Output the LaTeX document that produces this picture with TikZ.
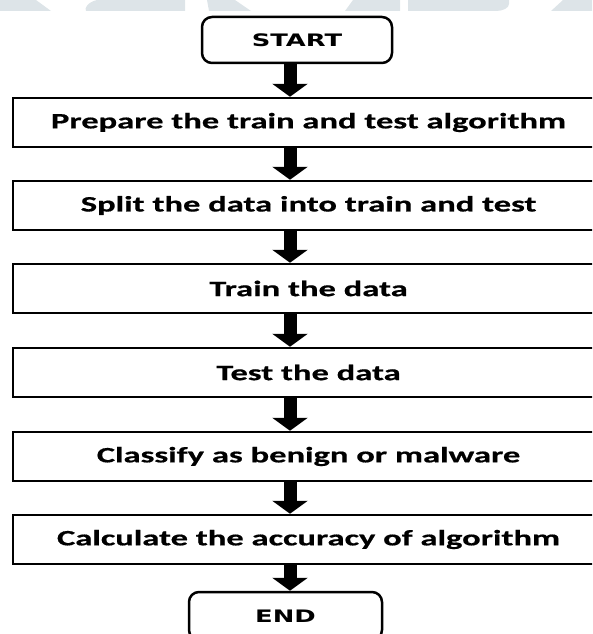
\documentclass[tikz,border=0pt]{standalone}
\usepackage{fontspec}
\usetikzlibrary{arrows.meta}
\newfontfamily\stepfont[FakeStretch=1.57,FakeBold=0.6]{Carlito Bold}
\newfontfamily\termfont[FakeStretch=1.5]{DejaVu Sans Bold}
\definecolor{wmark}{HTML}{DDE4E8}
\tikzset{
  stepbox/.style={draw=black, line width=2.5pt, fill=white, minimum width=591pt,
    minimum height=49pt, inner sep=0pt, font=\stepfont\fontsize{22pt}{26pt}\selectfont},
  termbox/.style={draw=black, line width=2.5pt, fill=white, rounded corners=10pt,
    inner sep=0pt, font=\termfont\fontsize{17.2pt}{20pt}\selectfont},
  blk/.style={line width=13pt, -{Triangle[width=35pt,length=13pt]}},
}
\begin{document}
\begin{tikzpicture}[x=1pt,y=-1pt]
  \useasboundingbox (0,0) rectangle (592,634);
  \clip (0,0) rectangle (592,634);
  % faint background lettering along the top edge
  \fill[wmark] (0,0) -- (36,0) -- (51,11) -- (0,11) -- cycle;
  \fill[wmark] (97,0) -- (185,0) -- (185,11) -- (86,11) .. controls (84,8) and (88,2) .. (97,0) -- cycle;
  \fill[wmark] (207,0) -- (235,0) -- (251,11) -- (209,11) -- cycle;
  \fill[wmark] (353,0) -- (400,0) -- (400,11) -- (345,11) -- cycle;
  \fill[wmark] (408,0) -- (509,0) -- (509,4) .. controls (509,8) and (503,11) .. (496,11) -- (408,11) -- cycle;
  \fill[wmark] (563,0) -- (592,0) -- (592,11) -- (551,11) -- cycle;

  \coordinate (ax) at (290,0);
  \node[termbox, minimum width=190pt, minimum height=46pt] (start) at (297,40) {START};
  \node[stepbox] (s1) at (308.5,122.5) {Prepare the train and test algorithm};
  \node[stepbox] (s2) at (308.5,205.5) {Split the data into train and test};
  \node[stepbox] (s3) at (308.5,288.5) {Train the data};
  \node[stepbox] (s4) at (308.5,372.5) {Test the data};
  \node[stepbox] (s5) at (308.5,456.5) {Classify as benign or malware};
  \node[stepbox] (s6) at (308.5,539.5) {Calculate the accuracy of algorithm};
  \node[termbox, minimum width=193pt, minimum height=48pt] (end) at (285.5,616) {END};

  \draw[blk] (start.south -| ax) -- (s1.north -| ax);
  \draw[blk] (s1.south -| ax) -- (s2.north -| ax);
  \draw[blk] (s2.south -| ax) -- (s3.north -| ax);
  \draw[blk] (s3.south -| ax) -- (s4.north -| ax);
  \draw[blk] (s4.south -| ax) -- (s5.north -| ax);
  \draw[blk] (s5.south -| ax) -- (s6.north -| ax);
  \draw[blk] (s6.south -| ax) -- (end.north -| ax);
\end{tikzpicture}
\end{document}
